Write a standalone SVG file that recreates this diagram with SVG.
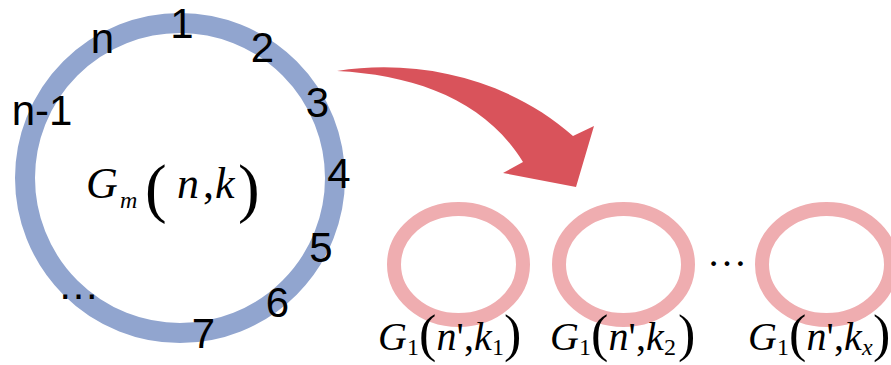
<svg xmlns="http://www.w3.org/2000/svg" width="891" height="365" viewBox="0 0 891 365">
<style>
.num{font-family:"Liberation Sans",Arial,sans-serif;font-size:42px;fill:#000;text-anchor:middle}
.m{font-family:"Liberation Serif","Times New Roman",serif;font-size:40px;fill:#000}
.f44{font-size:44px}
.i{font-style:italic}
.sub{font-size:24px}
.bp{font-size:65px}
.sp{font-size:52px}
.big{fill:none;stroke:#91a5cf;stroke-width:20}
.small{fill:none;stroke:#efadb0;stroke-width:14}
</style>
<rect width="891" height="365" fill="#fff"/>
<g id="big-graph">
<circle class="big" cx="180" cy="178" r="155"/>
<text class="num" x="182" y="38">1</text>
<text class="num" x="102.5" y="53">n</text>
<text class="num" x="262.5" y="62">2</text>
<text class="num" x="42" y="125">n-1</text>
<text class="num" x="317.5" y="117">3</text>
<text class="num" x="339" y="188">4</text>
<text class="num" x="321" y="262">5</text>
<text class="num" x="277.5" y="317">6</text>
<text class="num" x="203.5" y="348">7</text>
<text class="num" x="78.5" y="299">…</text>
<text class="m f44"><tspan class="i" x="86" y="198">G</tspan><tspan class="i sub" x="120" y="208">m</tspan><tspan class="bp" x="145" y="210">(</tspan><tspan class="i" x="177" y="198">n</tspan><tspan x="203" y="198">,</tspan><tspan class="i" x="215" y="198">k</tspan><tspan class="bp" x="238" y="210">)</tspan></text>
</g>
<g id="connectors">
<path d="M337,71 C420,58 510,80 573,136 L594,126 L576,187 L503,173 L523,162 C485,100 415,75 337,71 Z" fill="#d9535b"/>
</g>
<g id="sub-graph-1">
<ellipse class="small" cx="458.5" cy="264.5" rx="64.5" ry="55.5"/>
<text class="m"><tspan class="i" x="378" y="350">G</tspan><tspan class="sub" x="407" y="355">1</tspan><tspan class="sp" x="419" y="351">(</tspan><tspan class="i" x="436.5" y="350">n</tspan><tspan x="456.5" y="350">'</tspan><tspan x="464" y="350">,</tspan><tspan class="i" x="474" y="350">k</tspan><tspan class="sub" x="492" y="355">1</tspan><tspan class="sp" x="504" y="351">)</tspan></text>
</g>
<g id="sub-graph-2">
<ellipse class="small" cx="623.5" cy="264.5" rx="64.5" ry="55.5"/>
<text class="m"><tspan class="i" x="550" y="350">G</tspan><tspan class="sub" x="579" y="355">1</tspan><tspan class="sp" x="591" y="351">(</tspan><tspan class="i" x="608.5" y="350">n</tspan><tspan x="628.5" y="350">'</tspan><tspan x="636" y="350">,</tspan><tspan class="i" x="646" y="350">k</tspan><tspan class="sub" x="664" y="355">2</tspan><tspan class="sp" x="678" y="351">)</tspan></text>
</g>
<text class="m" x="727" y="265.5" text-anchor="middle" font-size="42">…</text>
<g id="sub-graph-x">
<ellipse class="small" cx="826.5" cy="264.5" rx="64.5" ry="55.5"/>
<text class="m"><tspan class="i" x="748" y="350">G</tspan><tspan class="sub" x="777" y="355">1</tspan><tspan class="sp" x="789" y="351">(</tspan><tspan class="i" x="806.5" y="350">n</tspan><tspan x="826.5" y="350">'</tspan><tspan x="834" y="350">,</tspan><tspan class="i" x="844" y="350">k</tspan><tspan class="i sub" x="862" y="355">x</tspan><tspan class="sp" x="873" y="351">)</tspan></text>
</g>
</svg>
